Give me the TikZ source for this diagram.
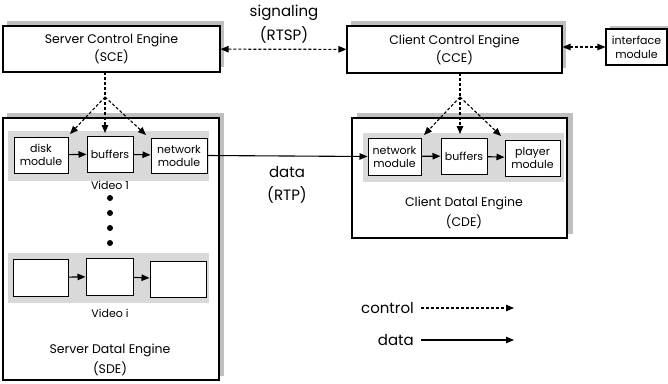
\documentclass[tikz,border=0pt]{standalone}
\usepackage{fontspec}
\setmainfont{Poppins}
\usetikzlibrary{arrows.meta}
\begin{document}
\begin{tikzpicture}[x=1pt,y=-1pt,
  font=\fontsize{12.5}{18}\selectfont,
  box/.style={draw=black, line width=1.1pt, fill=white, inner sep=0pt, align=center},
  shadowbox/.style={fill=black!25, draw=none},
  band/.style={fill=black!15, draw=none, inner sep=0pt},
  mod/.style={draw=black, line width=1pt, fill=white, inner sep=0pt, align=center, font=\fontsize{11}{13}\selectfont},
  arr/.style={line width=1.1pt, -{Triangle[length=8pt,width=6.5pt]}},
  darr/.style={line width=1.1pt, dash pattern=on 3pt off 2pt, -{Triangle[length=8pt,width=6.5pt]}},
  ddarr/.style={line width=1.1pt, dash pattern=on 3pt off 2pt, {Triangle[length=8pt,width=6.5pt]}-{Triangle[length=8pt,width=6.5pt]}},
  dline/.style={line width=1.1pt, dash pattern=on 3pt off 2pt},
  lbl/.style={inner sep=0pt, align=center},
  big/.style={font=\fontsize{15}{18}\selectfont}
]
\useasboundingbox (0,0) rectangle (668,383);
% shadows
\fill[shadowbox] (7,21) rectangle (224,67);
\fill[shadowbox] (351,21) rectangle (566,68);
\fill[shadowbox] (610,26) rectangle (671,60);
\fill[shadowbox] (7,113) rectangle (224,376);
\fill[shadowbox] (357,113) rectangle (573,234);
% outer boxes
\node[box, minimum width=217, minimum height=46] (sce) at (111.5,49) {Server Control Engine\\(SCE)};
\node[box, minimum width=215, minimum height=47] (cce) at (454.5,49.5) {Client Control Engine\\(CCE)};
\node[box, minimum width=61, minimum height=36, font=\fontsize{11}{14}\selectfont] (ifm) at (636.5,47) {interface\\module};
\node[box, minimum width=216, minimum height=262] (sde) at (111,249) {};
\node[box, minimum width=215, minimum height=120] (cde) at (459.5,178) {};
% bands
\node[band, minimum width=201, minimum height=50] (band1) at (108.5,156) {};
\node[band, minimum width=201, minimum height=50] (bandi) at (108.5,278) {};
\node[band, minimum width=201, minimum height=49] (bandc) at (463.5,157.5) {};
% modules
\node[mod, minimum width=54, minimum height=36] (disk) at (41,155) {disk\\module};
\node[mod, minimum width=46, minimum height=36] (buf1) at (110,154) {buffers};
\node[mod, minimum width=56, minimum height=35] (net1) at (179,155.5) {network\\module};
\node[mod, minimum width=55, minimum height=37] (bi1) at (40.5,277.5) {};
\node[mod, minimum width=47, minimum height=37] (bi2) at (109.5,276.5) {};
\node[mod, minimum width=56, minimum height=36] (bi3) at (178,279) {};
\node[mod, minimum width=53, minimum height=37] (cnet) at (394.5,156.5) {network\\module};
\node[mod, minimum width=46, minimum height=36] (cbuf) at (464,156) {buffers};
\node[mod, minimum width=55, minimum height=36] (play) at (532.5,158) {player\\module};
% labels
\node[lbl, font=\fontsize{11}{13}\selectfont] (v1) at (110,185) {Video 1};
\node[lbl, font=\fontsize{11}{13}\selectfont] (vi) at (110,313) {Video i};
\node[lbl] (sdel) at (110,350) {Server Datal Engine};
\node[lbl] (sdea) at (110,369) {(SDE)};
\node[lbl] (cdel) at (464,203) {Client Datal Engine};
\node[lbl] (cdea) at (464,222) {(CDE)};
\node[lbl, big] (sig) at (284,13) {signaling};
\node[lbl, big] (rtsp) at (284,35) {(RTSP)};
\node[lbl, big] (dat) at (287,172) {data};
\node[lbl, big] (rtp) at (287,195) {(RTP)};
% dots
\foreach \yy [count=\i] in {198,213,228,243}
  \fill (110,\yy) circle (3pt) coordinate (dot\i);
% connectors
\draw[ddarr] (sce) -- (cce);
\draw[ddarr] (cce.east |- ifm) -- (ifm);
\draw[arr] (net1.east) -- (cnet.west);
\draw[arr] (disk) -- (buf1);
\draw[arr] (buf1) -- (net1);
\draw[arr] (bi1) -- (bi2);
\draw[arr] (bi2) -- (bi3);
\draw[arr] (cnet) -- (cbuf);
\draw[arr] (cbuf) -- (play);
% control tree server
\coordinate (sb) at (105,97);
\coordinate (st) at (105,72);
\draw[dline] (st) -- (sb);
\coordinate (s1) at (70,134);
\coordinate (s2) at (105,133);
\coordinate (s3) at (146,135);
\draw[darr] (sb) -- (s1);
\draw[darr] (sb) -- (s2);
\draw[darr] (sb) -- (s3);
% control tree client
\coordinate (cb) at (460,97);
\coordinate (ct) at (460,73);
\draw[dline] (ct) -- (cb);
\coordinate (c1) at (424,135);
\coordinate (c2) at (460,134);
\coordinate (c3) at (501,136);
\draw[darr] (cb) -- (c1);
\draw[darr] (cb) -- (c2);
\draw[darr] (cb) -- (c3);
% legend
\node[lbl, anchor=east, big] (lc) at (414,308) {control};
\node[lbl, anchor=east, big] (ld) at (414,340) {data};
\coordinate (lce) at (514,308);
\coordinate (lde) at (514,340);
\draw[darr] ([xshift=7pt]lc.east) -- (lce);
\draw[arr] ([xshift=7pt]ld.east) -- (lde);
\end{tikzpicture}
\end{document}
